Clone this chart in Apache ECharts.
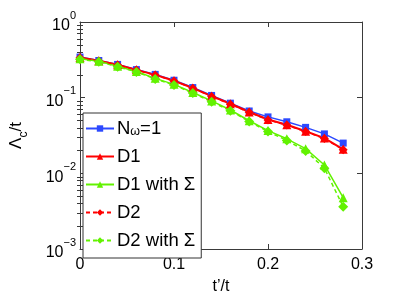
<!DOCTYPE html>
<html>
<head>
<meta charset="utf-8">
<script src="https://cdn.jsdelivr.net/npm/echarts@6/dist/echarts.min.js"></script>
<style>html,body{margin:0;padding:0;background:#fff}#c{width:399px;height:300px}</style>
</head>
<body>
<div id="c"></div>
<script>
const xValues = [0, 0.02, 0.04, 0.06, 0.08, 0.10, 0.12, 0.14, 0.16, 0.18, 0.20, 0.22, 0.24, 0.26, 0.28];
const nw1 = [0.344, 0.31, 0.275, 0.235, 0.203, 0.17, 0.136, 0.107, 0.0846, 0.0667, 0.0557, 0.048, 0.0405, 0.0332, 0.0251];
const d1 = [0.34, 0.307, 0.272, 0.233, 0.2, 0.167, 0.134, 0.105, 0.083, 0.0646, 0.0514, 0.0439, 0.036, 0.0292, 0.0208];
const d1Sigma = [0.327, 0.302, 0.26, 0.222, 0.18, 0.15, 0.117, 0.0906, 0.0687, 0.0495, 0.0367, 0.0286, 0.0212, 0.0129, 0.00477];
const d2 = [0.338, 0.305, 0.27, 0.232, 0.199, 0.166, 0.133, 0.104, 0.082, 0.064, 0.0508, 0.0434, 0.0356, 0.0288, 0.0205];
const d2Sigma = [0.322, 0.298, 0.256, 0.219, 0.177, 0.147, 0.115, 0.0885, 0.067, 0.0485, 0.0356, 0.0272, 0.0198, 0.0117, 0.00362];
const xTicks = [0, 0.1, 0.2, 0.3];
const yTicks = [0.001, 0.01, 0.1, 1];
const yExp = {'0.001': '−3', '0.01': '−2', '0.1': '−1', '1': '0'};
const names = ['N_w=1', 'D1', 'D1 with Σ', 'D2', 'D2 with Σ'];

const minorVals = [];
[0.001, 0.01, 0.1].forEach(b => { for (let k = 2; k <= 9; k++) minorVals.push(+(b * k).toPrecision(3)); });

const FONT = 'Liberation Sans';
const axisColor = '#3a3a3a';
const pair = ys => xValues.map((x, i) => [x, ys[i]]);

const chart = echarts.init(document.getElementById('c'), null, {renderer: 'canvas'});
const baseY = {
  type: 'log', logBase: 10, min: 0.001, max: 1,
  splitLine: {show: false}, minorSplitLine: {show: false}
};
chart.setOption({
  animation: false,
  backgroundColor: '#fff',
  textStyle: {fontFamily: FONT},
  grid: {left: 78, right: 37, top: 22, bottom: 46, containLabel: false},
  xAxis: [{
    type: 'value', min: 0, max: 0.3, interval: 0.1,
    name: "t’/t", nameLocation: 'middle', nameGap: 30,
    nameTextStyle: {fontFamily: FONT, fontSize: 16, color: '#000'},
    axisLine: {show: true, onZero: false, lineStyle: {color: axisColor, width: 1}},
    axisTick: {show: true, inside: true, length: 5, lineStyle: {color: axisColor}},
    axisLabel: {fontFamily: FONT, fontSize: 16, color: '#000', margin: 8,
      formatter: v => (v === 0 ? '0' : String(+v.toFixed(1)))},
    splitLine: {show: false}
  }, {
    type: 'value', min: 0, max: 0.3, interval: 0.1, position: 'top',
    axisLine: {show: true, onZero: false, lineStyle: {color: axisColor, width: 1}},
    axisTick: {show: true, inside: true, length: 5, lineStyle: {color: axisColor}},
    axisLabel: {show: false}, splitLine: {show: false}
  }],
  yAxis: [Object.assign({}, baseY, {
    position: 'left',
    name: '{a|Λ}{s|c}{a|/t}', nameLocation: 'middle', nameGap: 50, nameRotate: 90,
    nameTextStyle: {color: '#000', rich: {
      a: {fontFamily: FONT, fontSize: 17, color: '#000', lineHeight: 22, verticalAlign: 'top'},
      s: {fontFamily: FONT, fontSize: 12, color: '#000', lineHeight: 22, verticalAlign: 'bottom', padding: [6, 0, 0, 0]}
    }},
    axisLine: {show: true, onZero: false, lineStyle: {color: axisColor, width: 1}},
    axisTick: {show: true, inside: true, length: 5, lineStyle: {color: axisColor}},
    axisLabel: {color: '#000', margin: 4,
      formatter: v => '{b|10}{p|' + (yExp[String(+v.toPrecision(3))] || '') + '}',
      rich: {
        b: {fontFamily: FONT, fontSize: 16, color: '#000', lineHeight: 24, verticalAlign: 'bottom'},
        p: {fontFamily: FONT, fontSize: 11, color: '#000', lineHeight: 24, verticalAlign: 'top'}
      }}
  }), Object.assign({}, baseY, {
    position: 'left',
    axisLine: {show: false},
    axisTick: {show: true, inside: true, length: 3, customValues: minorVals, lineStyle: {color: axisColor}},
    axisLabel: {show: false}
  }), Object.assign({}, baseY, {
    position: 'right',
    axisLine: {show: true, onZero: false, lineStyle: {color: axisColor, width: 1}},
    axisTick: {show: true, inside: true, length: 5, lineStyle: {color: axisColor}},
    axisLabel: {show: false}
  }), Object.assign({}, baseY, {
    position: 'right',
    axisLine: {show: false},
    axisTick: {show: true, inside: true, length: 3, customValues: minorVals, lineStyle: {color: axisColor}},
    axisLabel: {show: false}
  })],
  legend: {
    orient: 'vertical', left: 83, top: 113,
    backgroundColor: '#fff', borderColor: '#333', borderWidth: 1,
    padding: [2, 6, 8, 2], itemGap: 9, itemWidth: 28, itemHeight: 8,
    data: names,
    textStyle: {fontFamily: FONT, fontSize: 18.5, color: '#000', lineHeight: 19, padding: [0, 0, 0, -2],
      rich: {
        t: {fontFamily: FONT, fontSize: 18.5, color: '#000', lineHeight: 19},
        u: {fontFamily: FONT, fontSize: 12.5, color: '#000', lineHeight: 19, verticalAlign: 'bottom', padding: [10, 0, 0, 0]}
      }},
    formatter: n => n === 'N_w=1' ? '{t|N}{u|ω}{t|=1}' : n
  },
  series: [
    {name: names[0], type: 'line', data: pair(nw1), symbol: 'rect', symbolSize: 7,
      itemStyle: {color: '#2c49ff'}, lineStyle: {color: '#2c49ff', width: 1.5}},
    {name: names[1], type: 'line', data: pair(d1), symbol: 'triangle', symbolSize: 9,
      itemStyle: {color: '#ff0000'}, lineStyle: {color: '#ff0000', width: 2}},
    {name: names[2], type: 'line', data: pair(d1Sigma), symbol: 'triangle', symbolSize: 9,
      itemStyle: {color: '#62f200'}, lineStyle: {color: '#62f200', width: 1.5}},
    {name: names[3], type: 'line', data: pair(d2), symbol: 'diamond', symbolSize: 9,
      itemStyle: {color: '#ff0000'}, lineStyle: {color: '#ff0000', width: 1.5, type: [4, 3]}},
    {name: names[4], type: 'line', data: pair(d2Sigma), symbol: 'diamond', symbolSize: 10,
      itemStyle: {color: '#62f200'}, lineStyle: {color: '#62f200', width: 1.5, type: [4, 3]}}
  ]
});
</script>
</body>
</html>
